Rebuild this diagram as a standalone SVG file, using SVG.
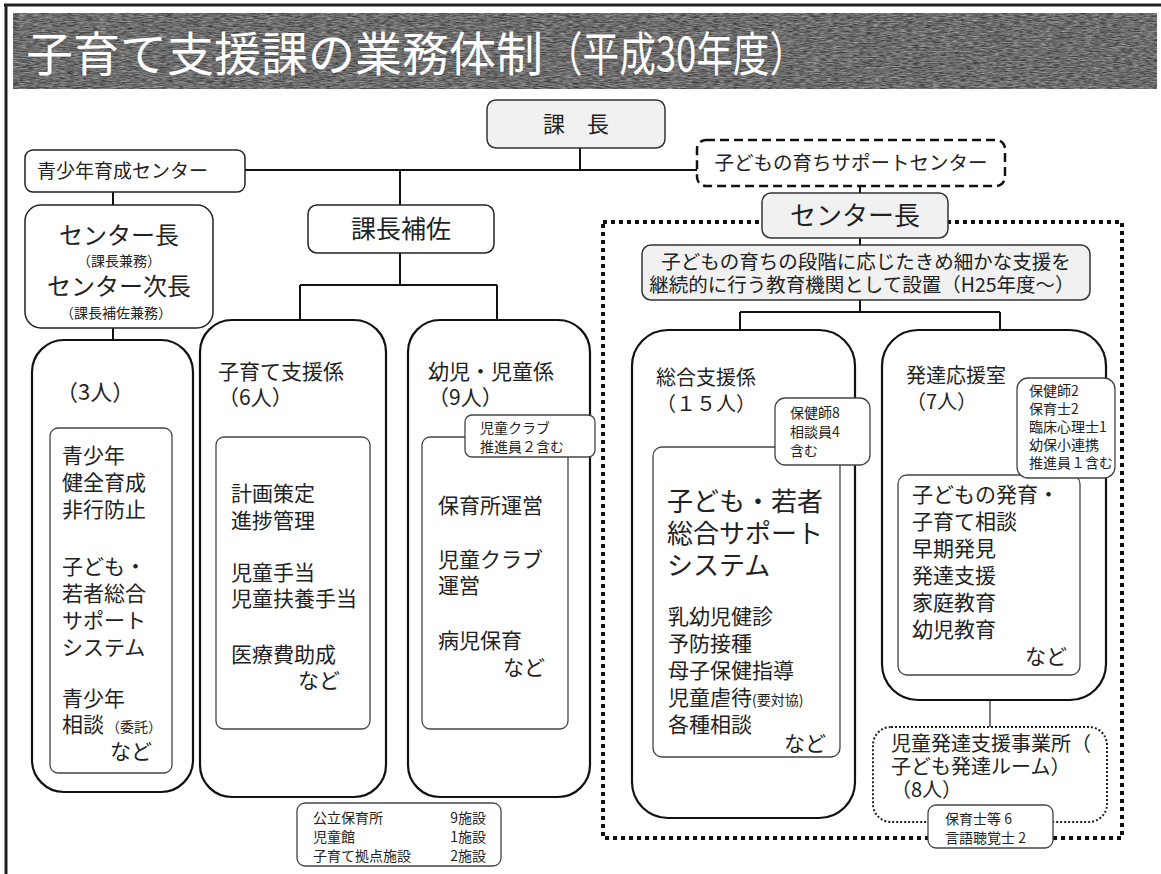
<svg xmlns="http://www.w3.org/2000/svg" width="1161" height="874" viewBox="0 0 1161 874">
<style>
text{font-family:"Noto Sans CJK JP","Noto Sans CJK SC",sans-serif;fill:#222}
.box{fill:#fff;stroke:#222;stroke-width:1.5}
.gbox{fill:#f1f1f1;stroke:#333;stroke-width:1.5}
.big{fill:#fff;stroke:#111;stroke-width:2.2}
.inner{fill:#fff;stroke:#444;stroke-width:1.3}
.call{fill:#fff;stroke:#444;stroke-width:1.3}
.ln{stroke:#111;stroke-width:2;fill:none}
.t13{font-size:14px}
.t14{font-size:14px}
.t19{font-size:19.5px}
.t20{font-size:20px}
.t21{font-size:21px}
.t22{font-size:22px}
.t24{font-size:24px}
.t26{font-size:26px}
.mid{text-anchor:middle}
.end{text-anchor:end}
</style>
<defs>
<filter id="tex" x="0" y="0" width="100%" height="100%" color-interpolation-filters="sRGB">
<feTurbulence type="fractalNoise" baseFrequency="0.15 1.2" numOctaves="2" seed="4"/>
<feColorMatrix type="matrix" values="0.6 0 0 0 0.12  0.6 0 0 0 0.12  0.6 0 0 0 0.12  0 0 0 0 1"/>
</filter>
</defs>
<rect width="1161" height="874" fill="#fff"/>
<!-- frame -->
<line x1="4" y1="5" x2="1161" y2="5" stroke="#222" stroke-width="3"/>
<line x1="6" y1="4" x2="6" y2="874" stroke="#222" stroke-width="3"/>
<!-- title -->
<g id="title">
<rect x="13" y="13" width="1144" height="76" fill="#666" filter="url(#tex)"/>
<text x="26" y="71" style="font-size:47px;fill:#fff">子育て支援課の業務体制</text>
<text x="546" y="71" style="font-size:47px;fill:#fff" textLength="260" lengthAdjust="spacingAndGlyphs">（平成30年度）</text>
</g>
<!-- connectors -->
<g id="connectors">
<line class="ln" x1="580" y1="148" x2="580" y2="170"/>
<line class="ln" x1="245" y1="170" x2="697" y2="170"/>
<line class="ln" x1="113" y1="192" x2="113" y2="205"/>
<line class="ln" x1="113" y1="328" x2="113" y2="340"/>
<line class="ln" x1="400" y1="170" x2="400" y2="205"/>
<line class="ln" x1="400" y1="253" x2="400" y2="285"/>
<line class="ln" x1="300" y1="285" x2="497" y2="285"/>
<line class="ln" x1="300" y1="285" x2="300" y2="320"/>
<line class="ln" x1="497" y1="285" x2="497" y2="320"/>
<line class="ln" x1="860" y1="186" x2="860" y2="193"/>
<line class="ln" x1="860" y1="238" x2="860" y2="245"/>
<line class="ln" x1="860" y1="300" x2="860" y2="312"/>
<line class="ln" x1="740" y1="312" x2="1000" y2="312"/>
<line class="ln" x1="740" y1="312" x2="740" y2="330"/>
<line class="ln" x1="1000" y1="312" x2="1000" y2="330"/>
<line x1="990" y1="700" x2="990" y2="727" stroke="#333" stroke-width="1.3"/>
</g>
<!-- dotted border for support center -->
<g id="support-center-area">
<rect x="603" y="222" width="519" height="616" fill="none" stroke="#111" stroke-width="4" stroke-dasharray="4 4"/>
</g>
<g id="kacho">
<rect class="gbox" x="487" y="100" width="178" height="48" rx="9"/>
<text class="mid" x="576" y="132" style="font-size:22px">課　長</text>
</g>
<g id="seishonen-center">
<rect class="box" x="25" y="150" width="220" height="42" rx="8"/>
<text style="font-size:19px" x="37" y="178">青少年育成センター</text>
</g>
<g id="kodomo-center">
<rect x="697" y="140" width="308" height="46" rx="9" fill="#fff" stroke="#111" stroke-width="2.5" stroke-dasharray="9 5"/>
<text class="t19 mid" x="851" y="170">子どもの育ちサポートセンター</text>
</g>
<g id="center-cho-left">
<rect class="box" x="25" y="205" width="188" height="123" rx="16"/>
<text class="mid"><tspan class="t24" x="119" y="244">センター長</tspan><tspan class="t14" x="119" y="266">（課長兼務）</tspan><tspan class="t24" x="119" y="295">センター次長</tspan><tspan class="t14" x="116" y="318">（課長補佐兼務）</tspan></text>
</g>
<g id="kacho-hosa">
<rect class="box" x="308" y="205" width="186" height="48" rx="9"/>
<text class="mid" x="401" y="238" style="font-size:25px">課長補佐</text>
</g>
<g id="seishonen-staff">
<rect class="big" x="32" y="340" width="161" height="452" rx="32"/>
<rect class="inner" x="50" y="428" width="122" height="345" rx="8"/>
<text class="t22" x="56" y="400">（3人）</text>
<text class="t21"><tspan x="62" y="463">青少年</tspan><tspan x="62" y="490">健全育成</tspan><tspan x="62" y="517">非行防止</tspan><tspan x="62" y="574">子ども・</tspan><tspan x="62" y="601">若者総合</tspan><tspan x="62" y="628">サポート</tspan><tspan x="62" y="655">システム</tspan><tspan x="62" y="706">青少年</tspan><tspan x="62" y="732">相談</tspan><tspan class="t13" dx="2">（委託）</tspan><tspan x="110" y="759">など</tspan></text>
</g>
<g id="kosodate-shien">
<rect class="big" x="200" y="320" width="186" height="477" rx="32"/>
<rect class="inner" x="216" y="437" width="154" height="292" rx="8"/>
<text class="t21"><tspan x="218" y="379">子育て支援係</tspan><tspan x="218" y="405">（6人）</tspan></text>
<text class="t21"><tspan x="231" y="501">計画策定</tspan><tspan x="231" y="528">進捗管理</tspan><tspan x="231" y="580">児童手当</tspan><tspan x="231" y="606">児童扶養手当</tspan><tspan x="231" y="662">医療費助成</tspan><tspan x="298" y="688">など</tspan></text>
</g>
<g id="yoji-jido">
<rect class="big" x="408" y="320" width="182" height="477" rx="32"/>
<rect class="inner" x="422" y="437" width="146" height="292" rx="8"/>
<text class="t21"><tspan x="428" y="379">幼児・児童係</tspan><tspan x="428" y="405">（9人）</tspan></text>
<rect class="call" x="465" y="415" width="130" height="42" rx="7"/>
<text class="t13"><tspan x="480" y="433">児童クラブ</tspan><tspan x="480" y="452">推進員２含む</tspan></text>
<text class="t21"><tspan x="438" y="513">保育所運営</tspan><tspan x="438" y="567">児童クラブ</tspan><tspan x="438" y="593">運営</tspan><tspan x="438" y="648">病児保育</tspan><tspan x="503" y="675">など</tspan></text>
</g>
<g id="facilities">
<rect class="call" x="297" y="803" width="204" height="63" rx="8"/>
<text class="t13"><tspan x="313" y="823">公立保育所</tspan><tspan x="313" y="842">児童館</tspan><tspan x="313" y="861">子育て拠点施設</tspan></text>
<text class="t13 end"><tspan x="486" y="823">9施設</tspan><tspan x="486" y="842">1施設</tspan><tspan x="486" y="861">2施設</tspan></text>
</g>
<g id="center-cho-right">
<rect class="gbox" x="762" y="193" width="186" height="45" rx="9"/>
<text class="t26 mid" x="855" y="225">センター長</text>
</g>
<g id="center-desc">
<rect class="gbox" x="642" y="245" width="448" height="55" rx="9"/>
<text class="t19 mid"><tspan x="866" y="269">子どもの育ちの段階に応じたきめ細かな支援を</tspan><tspan x="862" y="292">継続的に行う教育機関として設置（H25年度～）</tspan></text>
</g>
<g id="sogo-shien">
<rect class="big" x="632" y="330" width="223" height="488" rx="36"/>
<rect class="inner" x="653" y="447" width="187" height="310" rx="9"/>
<text class="t20"><tspan x="656" y="385">総合支援係</tspan><tspan x="656" y="411">（１５人）</tspan></text>
<rect class="call" x="775" y="398" width="95" height="67" rx="10"/>
<text class="t13"><tspan x="790" y="418">保健師8</tspan><tspan x="790" y="437">相談員4</tspan><tspan x="790" y="456">含む</tspan></text>
<text class="t26"><tspan x="667" y="511">子ども・若者</tspan><tspan x="667" y="543">総合サポート</tspan><tspan x="667" y="575">システム</tspan></text>
<text class="t21"><tspan x="668" y="624">乳幼児健診</tspan><tspan x="668" y="651">予防接種</tspan><tspan x="668" y="678">母子保健指導</tspan><tspan x="668" y="705">児童虐待</tspan><tspan class="t13">(要対協)</tspan><tspan x="668" y="732">各種相談</tspan><tspan x="784" y="751">など</tspan></text>
</g>
<g id="hattatsu-oen">
<rect class="big" x="882" y="330" width="224" height="370" rx="36"/>
<rect class="inner" x="898" y="475" width="182" height="200" rx="9"/>
<text class="t20"><tspan x="906" y="383">発達応援室</tspan><tspan x="906" y="409">（7人）</tspan></text>
<rect class="call" x="1017" y="378" width="98" height="100" rx="11"/>
<text class="t13"><tspan x="1029" y="396">保健師2</tspan><tspan x="1029" y="414">保育士2</tspan><tspan x="1029" y="432">臨床心理士1</tspan><tspan x="1029" y="450">幼保小連携</tspan><tspan x="1029" y="468">推進員１含む</tspan></text>
<text class="t21"><tspan x="912" y="502">子どもの発育・</tspan><tspan x="912" y="529">子育て相談</tspan><tspan x="912" y="556">早期発見</tspan><tspan x="912" y="583">発達支援</tspan><tspan x="912" y="610">家庭教育</tspan><tspan x="912" y="637">幼児教育</tspan><tspan x="1025" y="664">など</tspan></text>
</g>
<g id="jido-hattatsu">
<rect x="873" y="727" width="234" height="95" rx="18" fill="#fff" stroke="#222" stroke-width="2" stroke-dasharray="2 2"/>
<text class="t20"><tspan x="891" y="751">児童発達支援事業所（</tspan><tspan x="891" y="774">子ども発達ルーム）</tspan><tspan x="891" y="797">（8人）</tspan></text>
<rect class="call" x="928" y="805" width="125" height="43" rx="8"/>
<text class="t13"><tspan x="945" y="824">保育士等 6</tspan><tspan x="945" y="843">言語聴覚士 2</tspan></text>
</g>
</svg>
